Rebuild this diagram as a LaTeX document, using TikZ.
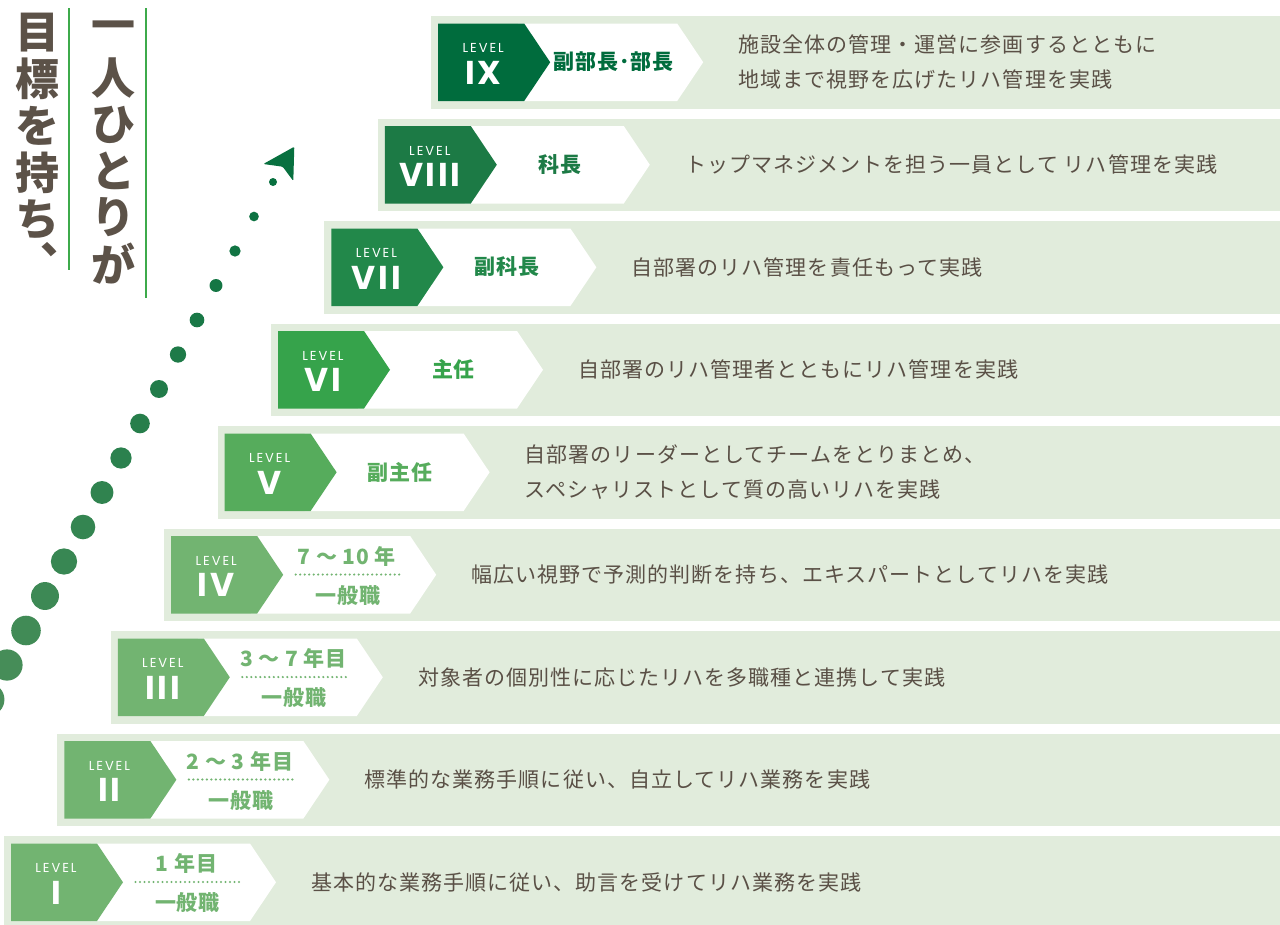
\documentclass[tikz,border=0pt]{standalone}
\usepackage{fontspec}
\newfontfamily\jp{Noto Sans CJK JP}
\newfontfamily\jpd{Noto Sans CJK JP}[LetterSpace=5]
\newfontfamily\jpr{Noto Sans CJK JP}[LetterSpace=4]
\newfontfamily\lvs{Poppins}[LetterSpace=15]
\newfontfamily\lvb{Poppins}[LetterSpace=8]
\definecolor{band}{HTML}{E1ECDC}
\definecolor{txt}{HTML}{5A5046}
\definecolor{title}{HTML}{5C5248}
\definecolor{cIX}{HTML}{006C3D}
\definecolor{cVIII}{HTML}{1C7A45}
\definecolor{cVII}{HTML}{22884A}
\definecolor{cVI}{HTML}{36A34B}
\definecolor{cV}{HTML}{56AC5C}
\definecolor{cIV}{HTML}{72B471}
\definecolor{vline}{HTML}{3DAA4B}
\definecolor{dotlow}{HTML}{4A8F5A}
\definecolor{dottop}{HTML}{08703F}
\tikzset{
 desc/.style={anchor=west, font=\jpd\fontsize{21}{35}\selectfont, text=txt, align=left, inner sep=0pt},
 role/.style={font=\jpr\bfseries\fontsize{21}{21}\selectfont, inner sep=0pt},
 lvl/.style={font=\lvs\fontsize{13}{13}\selectfont, text=white, inner sep=0pt},
 lvnum/.style={font=\lvb\bfseries\fontsize{33}{33}\selectfont, text=white, inner sep=0pt},
 ttl/.style={font=\jp\bfseries\fontsize{44}{44}\selectfont, text=title, inner sep=0pt},
 dotline/.style={line width=2.4pt, line cap=round, dash pattern=on 0pt off 4.5pt},
}
\begin{document}
\begin{tikzpicture}[x=1pt,y=-1pt]
\useasboundingbox (0,0) rectangle (1280,924);
% rows
\foreach \i/\num/\col in {0/I/cIV,1/II/cIV,2/III/cIV,3/IV/cIV,4/V/cV,5/VI/cVI,6/VII/cVII,7/VIII/cVIII,8/IX/cIX}{
  \pgfmathsetmacro\bx{4+53.4*\i}
  \pgfmathsetmacro\by{836-102.5*\i}
  \pgfmathsetmacro\dx{\bx+7}
  \pgfmathsetmacro\dy{\by+7.5}
  \fill[band] (\bx,\by) rectangle (1290,\by+92.5);
  \coordinate (d\i) at (\dx,\dy);
  \fill[white] (\dx+80,\dy) -- (\dx+239,\dy) -- (\dx+265,\dy+38.75) -- (\dx+239,\dy+77.5) -- (\dx+80,\dy+77.5) -- cycle;
  \fill[\col] (\dx,\dy) -- (\dx+86,\dy) -- (\dx+112,\dy+38.75) -- (\dx+86,\dy+77.5) -- (\dx,\dy+77.5) -- cycle;
  \node[lvl] (lev\i) at (\dx+45,\dy+24.5) {LEVEL};
  \node[lvnum] (num\i) at (\dx+45,\dy+49) {\num};
}
% roles
\node[role,text=cIX] (role8) at ([shift={(175.5,38.5)}]d8) {副部長･部長};
\node[role,text=cVIII] (role7) at ([shift={(175.5,38.5)}]d7) {科長};
\node[role,text=cVII] (role6) at ([shift={(175.5,38.5)}]d6) {副科長};
\node[role,text=cVI] (role5) at ([shift={(175.5,38.5)}]d5) {主任};
\node[role,text=cV] (role4) at ([shift={(175.5,38.5)}]d4) {副主任};
% years
\foreach \i/\yr in {3/{7 〜 10 年},2/{3 〜 7 年目},1/{2 〜 3 年目},0/{1 年目}}{
  \node[role,text=cIV] (yr\i) at ([shift={(175.5,20)}]d\i) {\yr};
  \node[role,text=cIV] (gen\i) at ([shift={(176.5,59.5)}]d\i) {一般職};
  \coordinate (dl\i) at ([shift={(124.5,38.5)}]d\i);
  \coordinate (dr\i) at ([shift={(232,38.5)}]d\i);
  \draw[dotline,cIV] (dl\i) -- (dr\i);
}
% descriptions
\node[desc] (desc8) at ([shift={(300,38.75)}]d8) {施設全体の管理・運営に参画するとともに\\地域まで視野を広げたリハ管理を実践};
\node[desc] (desc7) at ([shift={(300,38.75)}]d7) {トップマネジメントを担う一員として リハ管理を実践};
\node[desc] (desc6) at ([shift={(300,38.75)}]d6) {自部署のリハ管理を責任もって実践};
\node[desc] (desc5) at ([shift={(300,38.75)}]d5) {自部署のリハ管理者とともにリハ管理を実践};
\node[desc] (desc4) at ([shift={(300,38.75)}]d4) {自部署のリーダーとしてチームをとりまとめ、\\スペシャリストとして質の高いリハを実践};
\node[desc] (desc3) at ([shift={(300,38.75)}]d3) {幅広い視野で予測的判断を持ち、エキスパートとしてリハを実践};
\node[desc] (desc2) at ([shift={(300,38.75)}]d2) {対象者の個別性に応じたリハを多職種と連携して実践};
\node[desc] (desc1) at ([shift={(300,38.75)}]d1) {標準的な業務手順に従い、自立してリハ業務を実践};
\node[desc] (desc0) at ([shift={(300,38.75)}]d0) {基本的な業務手順に従い、助言を受けてリハ業務を実践};
% title
\foreach \c [count=\k from 0] in {目,標,を,持,ち}{
  \node[ttl] (ta\k) at (37.5,32.5+46.7*\k) {\c};
}
\node[ttl] (ta5) at (62,250) {、};
\foreach \c [count=\k from 0] in {一,人,ひ,と,り,が}{
  \node[ttl] (tb\k) at (113,31.5+46.5*\k) {\c};
}
\coordinate (la) at (69,8);
\coordinate (lb) at (69,270);
\coordinate (lc) at (146,8);
\coordinate (ld) at (146,298);
\draw[vline,line width=2.4pt] (la) -- (lb);
\draw[vline,line width=2.4pt] (lc) -- (ld);
% dotted arrow
\foreach \k in {0,...,15}{
  \pgfmathsetmacro\t{100*\k/15}
  \fill[dotlow!\t!dottop] (273-19*\k,182+34.5*\k) circle (4+0.83*\k);
}
\fill[dottop, rounded corners=1.2pt] (294.3,146.7) -- (263.3,164) -- (282.7,166.7) -- (293.3,181) -- cycle;
\end{tikzpicture}
\end{document}
